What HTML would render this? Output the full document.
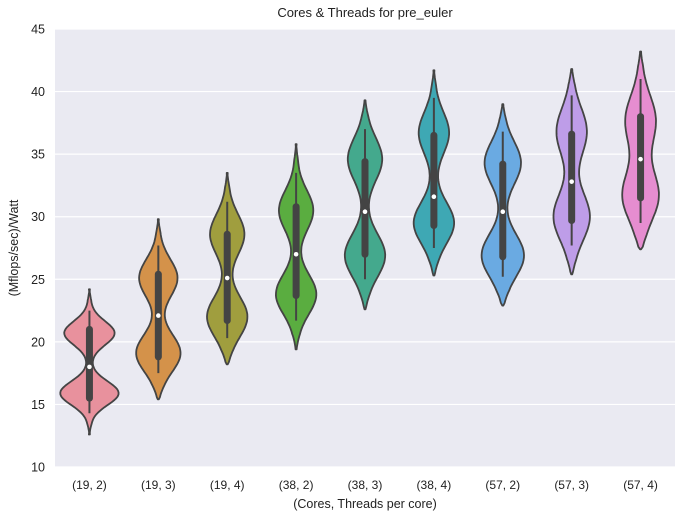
<!DOCTYPE html>
<html><head><meta charset="utf-8"><style>
html,body{margin:0;padding:0;background:#fff;}
svg{display:block;font-family:"Liberation Sans",Arial,sans-serif;}
</style></head><body>
<svg id="chart" width="685" height="523">
<rect x="55" y="29" width="620" height="438" fill="#eaeaf2"/>
<g id="grid"></g><g id="violins"></g><g id="axes"></g>
<text x="365" y="17" text-anchor="middle" font-size="13" fill="#222">Cores &amp; Threads for pre_euler</text>
<text x="365" y="508" text-anchor="middle" font-size="12.5" fill="#222">(Cores, Threads per core)</text>
<text transform="translate(18,248) rotate(-90)" text-anchor="middle" font-size="12.5" fill="#222">(Mflops/sec)/Watt</text>
</svg>
<script>
const categories = ["(19, 2)","(19, 3)","(19, 4)","(38, 2)","(38, 3)","(38, 4)","(57, 2)","(57, 3)","(57, 4)"];
const yTicks = [10,15,20,25,30,35,40,45];
const extMin = [12.6,15.4,18.2,19.4,22.6,25.3,22.9,25.4,27.4];
const extMax = [24.2,29.8,33.5,35.8,39.3,41.7,39.0,41.8,43.2];
const modeLow = [15.9,19.1,22.0,23.8,26.9,29.5,26.9,30.0,31.7];
const modeHigh = [20.7,25.1,28.6,30.5,34.6,36.7,34.3,36.8,37.7];
const widthLow = [28,21,19,19,19,19,20,17,17];
const widthHigh = [24,18,16,16,16,14,17,14,14];
const spread = [0.95,1.5,1.6,1.6,1.7,1.65,1.7,1.9,2.0];
const q1 = [15.5,18.8,21.7,23.7,27.0,29.3,26.8,29.7,31.5];
const q3 = [21.0,25.4,28.6,30.8,34.4,36.5,34.2,36.6,38.0];
const medians = [18.0,22.1,25.1,27.0,30.4,31.6,30.4,32.8,34.6];
const whiskLo = [14.3,17.5,20.3,21.7,25.0,27.5,25.2,27.7,29.5];
const whiskHi = [22.5,27.7,31.2,33.5,37.0,39.5,36.8,39.7,41.0];
const colors = ["#e8919d","#d4924a","#a09e3e","#5aad40","#44a98d","#3ea8b4","#6aaae2","#be9de8","#e68dd0"];

const NS="http://www.w3.org/2000/svg";
const X0=55,X1=675,Y0=29,Y1=467,YMIN=10,YMAX=45;
const yS=v=>Y1-(v-YMIN)/(YMAX-YMIN)*(Y1-Y0);
const bw=(X1-X0)/categories.length;
const xS=i=>X0+bw*(i+0.5);
function mk(tag,attrs,parent){const e=document.createElementNS(NS,tag);for(const k in attrs)e.setAttribute(k,attrs[k]);parent.appendChild(e);return e;}
const grid=document.getElementById('grid'),axes=document.getElementById('axes'),vg=document.getElementById('violins');
yTicks.forEach(t=>{
  const y=yS(t);
  const l=mk('line',{x1:X0,x2:X1,y1:y,y2:y,stroke:'#fff','stroke-width':1.2},grid);
  
  
  const tx=mk('text',{x:X0-10,y:y+4.5,'text-anchor':'end','font-size':12.5,fill:'#222'},axes);
  tx.textContent=t;
  
  
});
categories.forEach((c,i)=>{
  const tx=mk('text',{x:xS(i),y:489,'text-anchor':'middle','font-size':12,fill:'#222'},axes);
  tx.textContent=c;
  
  
  const cx=xS(i);
  const g=mk('g',{},vg);
  
  
  const N=80,pts=[];
  for(let k=0;k<=N;k++){
    const v=extMin[i]+(extMax[i]-extMin[i])*k/N;
    const s=spread[i];
    let w=widthLow[i]*Math.exp(-Math.pow(v-modeLow[i],2)/(2*s*s))+widthHigh[i]*Math.exp(-Math.pow(v-modeHigh[i],2)/(2*s*s));
    w+=1.2*Math.min(1,Math.min(k,N-k)/6);
    if(k===0||k===N)w=0.5;
    pts.push([v,w]);
  }
  let d='';
  pts.forEach((p,k)=>{d+=(k?'L':'M')+(cx+p[1]).toFixed(1)+','+yS(p[0]).toFixed(1);});
  for(let k=pts.length-1;k>=0;k--){d+='L'+(cx-pts[k][1]).toFixed(1)+','+yS(pts[k][0]).toFixed(1);}
  d+='Z';
  const body=mk('path',{d:d,fill:colors[i],stroke:'#444','stroke-width':1.8,'stroke-linejoin':'round'},g);
  
  
  const wh=mk('line',{x1:cx,x2:cx,y1:yS(whiskLo[i]),y2:yS(whiskHi[i]),stroke:'#444','stroke-width':2},g);
  
  
  const bx=mk('line',{x1:cx,x2:cx,y1:yS(q1[i]),y2:yS(q3[i]),stroke:'#444','stroke-width':7,'stroke-linecap':'round'},g);
  
  
  const md=mk('circle',{cx:cx,cy:yS(medians[i]),r:2.3,fill:'#fff'},g);
  
  
});
</script>
</body></html>
